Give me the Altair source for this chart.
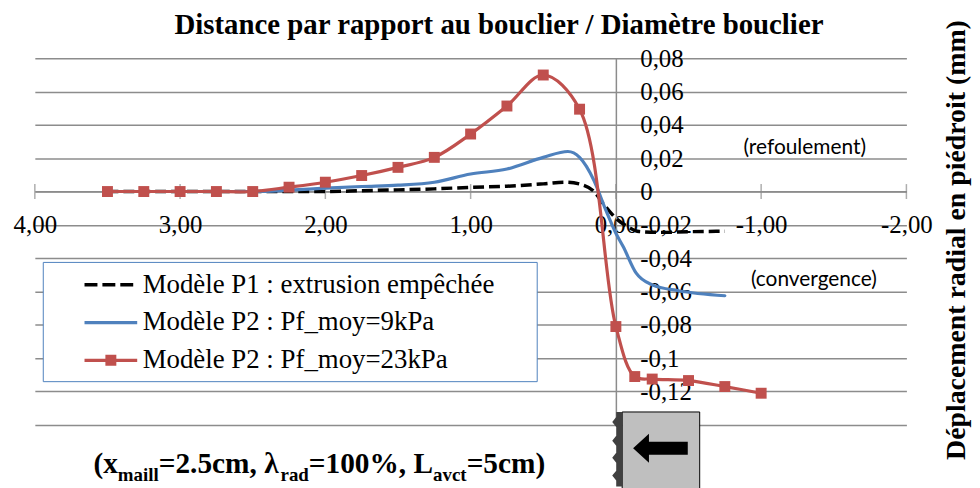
import altair as alt
import pandas as pd

# ---------------- data ----------------
series_names = [
    "Modèle P1 : extrusion empêchée",
    "Modèle P2 : Pf_moy=9kPa",
    "Modèle P2 : Pf_moy=23kPa",
]
series_colors = ["#000000", "#4f81bd", "#c0504d"]

p1_x = [3.5, 3.25, 3.0, 2.75, 2.5, 2.25, 2.0, 1.75, 1.5, 1.25, 1.0, 0.75, 0.5, 0.35, 0.25,
        0.15, 0.08, 0.0, -0.08, -0.16, -0.3, -0.5, -0.75]
p1_y = [0, 0, 0, 0, 0, 0, 0, 0.0005, 0.001, 0.0016, 0.0025, 0.0032, 0.0046, 0.0056, 0.0045,
        0.0, -0.008, -0.016, -0.021, -0.0240, -0.0245, -0.0241, -0.0238]

p2a_x = [3.5, 3.25, 3.0, 2.75, 2.5, 2.25, 2.0, 1.75, 1.5, 1.25, 1.0, 0.75, 0.5, 0.33, 0.25,
         0.15, 0.07, 0.0, -0.05, -0.14, -0.25, -0.43, -0.75]
p2a_y = [0, 0, 0, 0, 0, 0.0008, 0.002, 0.003, 0.0038, 0.0056, 0.0105, 0.0135, 0.0205, 0.024, 0.0205,
         0.0065, -0.011, -0.025, -0.033, -0.049, -0.056, -0.0595, -0.0625]

p2b_x = [3.5, 3.25, 3.0, 2.75, 2.5, 2.25, 2.0, 1.75, 1.5, 1.25, 1.0, 0.75, 0.5, 0.25,
         0.0, -0.13, -0.25, -0.5, -0.75, -1.0]
p2b_y = [0, 0, 0, 0, 0, 0.0026, 0.0056, 0.0096, 0.0145, 0.0205, 0.0345, 0.0513, 0.0699, 0.0494,
         -0.081, -0.111, -0.1125, -0.1134, -0.117, -0.121]

x_ticks = [4, 3, 2, 1, 0, -1, -2]
y_ticks = [0.08, 0.06, 0.04, 0.02, 0, -0.02, -0.04, -0.06, -0.08, -0.1, -0.12, -0.14]

rows = []
for name, xs, ys in zip(series_names, [p1_x, p2a_x, p2b_x], [p1_y, p2a_y, p2b_y]):
    rows += [{"serie": name, "x": a, "y": b} for a, b in zip(xs, ys)]
df = pd.DataFrame(rows)
ticks_df = pd.DataFrame({"x": x_ticks})
one = pd.DataFrame({"k": [0]})

# ---------------- styling ----------------
SERIF = "Liberation Serif"
SANS = "Lato"
GRID = "#8c8c8c"
W, H = 877, 369
x0_px = W * 4 / 6           # pixel position of x = 0
y0_px = H * 0.08 / 0.22     # pixel position of y = 0

x_scale = alt.Scale(domain=[-2, 4], reverse=True, nice=False, zero=False)
y_scale = alt.Scale(domain=[-0.14, 0.08], nice=False, zero=False)

x_axis = alt.Axis(
    values=x_ticks, orient="bottom", offset=-(H - y0_px), grid=False, ticks=False, tickSize=0,
    domain=True, domainColor=GRID, domainWidth=1.5,
    labelExpr="replace(replace(format(datum.value, '.2f'), '.', ','), '−', '-')",
    labelFont=SERIF, labelFontSize=25, labelColor="black", labelPadding=33,
    labelBaseline="middle", labelFlush=False, labelOverlap=False, title=None,
)
y_axis = alt.Axis(
    values=y_ticks, orient="right", offset=-(W - x0_px), grid=True, gridColor=GRID, gridWidth=1.5,
    ticks=False, tickSize=0, domain=True, domainColor=GRID, domainWidth=1.5,
    labelExpr="datum.value < -0.13 ? '' : replace(replace(format(datum.value, '.2~f'), '.', ','), '−', '-')",
    labelFont=SERIF, labelFontSize=25, labelColor="black", labelPadding=24, labelAlign="left",
    labelBaseline="middle", labelFlush=False, labelOverlap=False,
    title="Déplacement radial en piédroit (mm)", titleFont=SERIF, titleFontSize=28,
    titleFontWeight="bold", titleColor="black", titleAngle=270,
    titleX=927 - x0_px, titleY=H / 2 - 2, titleAlign="center", titleBaseline="middle",
)

X = alt.X("x:Q", scale=x_scale, axis=x_axis)
Y = alt.Y("y:Q", scale=y_scale, axis=y_axis)
ORDER = alt.Order("x:Q", sort="descending")


def line_layer(name, color, width, dash=None, interp="monotone"):
    kw = dict(color=color, strokeWidth=width, interpolate=interp, strokeCap="round")
    if dash:
        kw["strokeDash"] = dash
        kw["strokeCap"] = "butt"
    return (alt.Chart(df).transform_filter(alt.datum.serie == name)
            .mark_line(**kw).encode(x=X, y=Y, order=ORDER))


ticks_layer = alt.Chart(ticks_df).mark_tick(
    orient="vertical", size=15, thickness=1.5, color=GRID
).encode(x=X, y=alt.YDatum(0, type="quantitative", scale=y_scale, axis=y_axis))

black_line = line_layer(series_names[0], series_colors[0], 3.5, dash=[11, 5])
blue_line = line_layer(series_names[1], series_colors[1], 3.2)
red_line = line_layer(series_names[2], series_colors[2], 3.2, interp="catmull-rom")

red_points = (alt.Chart(df).transform_filter(alt.datum.serie == series_names[2])
              .mark_point(shape="square", filled=True, size=121, opacity=1, color=series_colors[2])
              .encode(x=X, y=Y))

# legend symbols (custom paths: line sample + marker), unit = 15 px.
# The first path carries an empty sub-path far to the right that only widens the legend box.
legend_paths = [
    "M-1.767,-0.117L-0.9,-0.117L-0.9,0.117L-1.767,0.117Z "
    "M-0.567,-0.117L0.3,-0.117L0.3,0.117L-0.567,0.117Z "
    "M0.633,-0.117L1.5,-0.117L1.5,0.117L0.633,0.117Z "
    "M28,0L28,0Z",
    "M-1.767,-0.107L1.767,-0.107L1.767,0.107L-1.767,0.107Z",
    "M-1.767,-0.107L1.767,-0.107L1.767,0.107L-1.767,0.107Z "
    "M-0.367,-0.367L0.367,-0.367L0.367,0.367L-0.367,0.367Z",
]
legend = alt.Legend(
    title=None, orient="none", legendX=8, legendY=205,
    fillColor="white", strokeColor="#4f81bd", padding=8,
    labelFont=SERIF, labelFontSize=27, labelColor="black", labelOffset=17, labelLimit=0,
    symbolSize=30 * 30, symbolOffset=45.5, symbolStrokeWidth=0, symbolOpacity=1, rowPadding=10,
)
legend_layer = alt.Chart(df).mark_point(filled=True, opacity=0).encode(
    x=X, y=Y,
    color=alt.Color("serie:N", scale=alt.Scale(domain=series_names, range=series_colors), legend=legend),
    shape=alt.Shape("serie:N", scale=alt.Scale(domain=series_names, range=legend_paths), legend=legend),
)

# title
title_text = alt.Chart(one).mark_text(
    text="Distance par rapport au bouclier / Diamètre bouclier", font=SERIF, fontSize=29,
    fontWeight="bold", color="black", align="center", baseline="middle",
).encode(x=alt.value(467), y=alt.value(-33))

# annotations
refoul = alt.Chart(one).mark_text(text="(refoulement)", font=SANS, fontSize=21, color="black").encode(
    x=alt.XDatum(-1.30, type="quantitative", scale=x_scale, axis=x_axis),
    y=alt.YDatum(0.0263, type="quantitative", scale=y_scale, axis=y_axis))
conver = alt.Chart(one).mark_text(text="(convergence)", font=SANS, fontSize=21, color="black").encode(
    x=alt.XDatum(-1.363, type="quantitative", scale=x_scale, axis=x_axis),
    y=alt.YDatum(-0.0531, type="quantitative", scale=y_scale, axis=y_axis))

# bottom caption with subscripts
caption_parts = [
    ("(x", False), ("maill", True), ("=2.5cm, λ", False), ("rad", True),
    ("=100%, L", False), ("avct", True), ("=5cm)", False),
]
caption_widths = [24.5, 41.2, 122.5, 28.5, 125.0, 33.8, 79.0]
caption_layers = []
cx = 59
for (txt, sub), w in zip(caption_parts, caption_widths):
    caption_layers.append(
        alt.Chart(one).mark_text(
            text=txt, font=SERIF, fontWeight="bold", fontSize=19 if sub else 29.5,
            align="left", baseline="alphabetic", color="black"
        ).encode(x=alt.value(cx), y=alt.value(425 if sub else 417))
    )
    cx += w

# shield icon
shield_box = alt.Chart(one).mark_rect(fill="#bfbfbf", stroke="black", strokeWidth=1).encode(
    x=alt.value(591), x2=alt.value(669), y=alt.value(356), y2=alt.value(440))
band_path = ("M0.08,-1L-0.08,-1L-0.08,-0.866L-0.187,-0.733L-0.08,-0.6L-0.08,-0.36L-0.187,-0.227"
             "L-0.08,-0.094L-0.08,0.094L-0.187,0.227L-0.08,0.36L-0.08,0.574L-0.187,0.707"
             "L-0.08,0.84L-0.08,1L0.08,1Z")
shield_band = alt.Chart(one).mark_point(shape=band_path, filled=True, size=75 * 75, color="#404040",
                                         opacity=1).encode(x=alt.value(588), y=alt.value(393.5))
arrow_path = "M-1,0L-0.42,-0.53L-0.42,-0.24L1,-0.24L1,0.24L-0.42,0.24L-0.42,0.53Z"
shield_arrow = alt.Chart(one).mark_point(shape=arrow_path, filled=True, size=55 * 55, color="black",
                                          opacity=1).encode(x=alt.value(629.5), y=alt.value(392.5))

chart = alt.layer(
    ticks_layer, black_line, blue_line, red_line, red_points, legend_layer, title_text,
    refoul, conver, *caption_layers, shield_box, shield_band, shield_arrow,
).properties(
    width=W, height=H,
    autosize=alt.AutoSizeParams(type="none"),
    padding={"left": 27, "top": 49, "right": 66, "bottom": 62},
    background="white",
).configure_view(stroke=None)

chart.save("out.html", embed_options={"renderer": "svg", "actions": False})
